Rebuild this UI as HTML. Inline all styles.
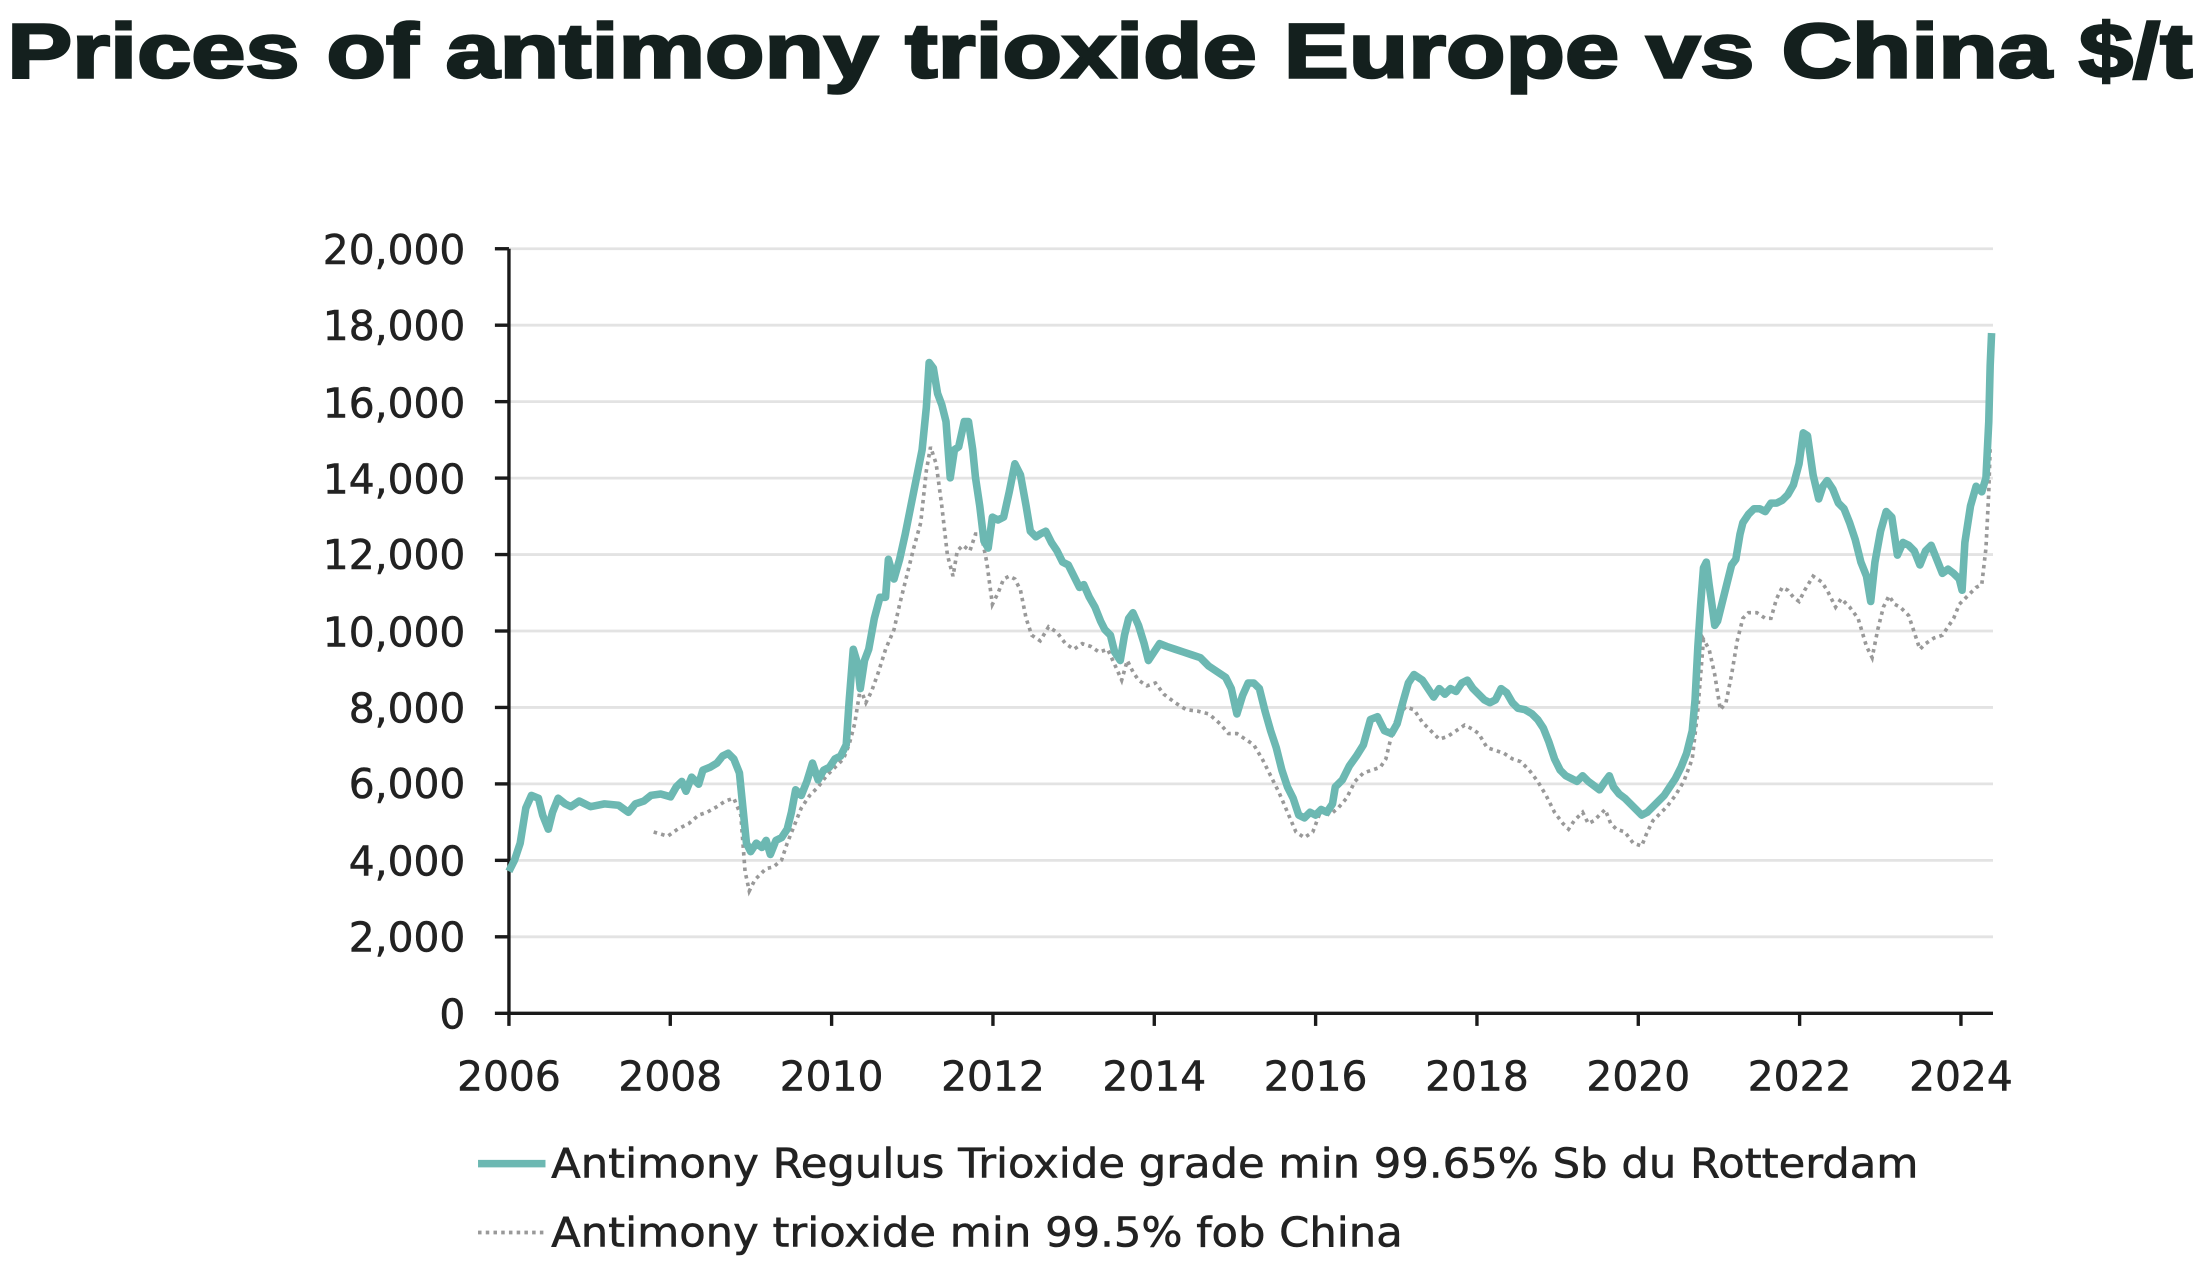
<!DOCTYPE html>
<html><head><meta charset="utf-8"><style>
html,body{margin:0;padding:0;background:#fff;width:2204px;height:1262px;overflow:hidden}
svg{display:block}
</style></head><body>
<svg width="2204" height="1262" viewBox="0 0 1568 898" xmlns="http://www.w3.org/2000/svg">
<rect width="1568" height="898" fill="#fff"/>
<text x="5" y="55" font-family="Liberation Sans, sans-serif" font-weight="bold" font-size="55" fill="#14201e" stroke="#14201e" stroke-width="1.8" textLength="1555" lengthAdjust="spacingAndGlyphs">Prices of antimony trioxide Europe vs China $/t</text>
<g stroke="#e3e3e3" stroke-width="2">
<line x1="362" x2="1418" y1="177" y2="177"/><line x1="362" x2="1418" y1="231.4" y2="231.4"/><line x1="362" x2="1418" y1="285.8" y2="285.8"/><line x1="362" x2="1418" y1="340.2" y2="340.2"/><line x1="362" x2="1418" y1="394.6" y2="394.6"/><line x1="362" x2="1418" y1="449" y2="449"/><line x1="362" x2="1418" y1="503.4" y2="503.4"/><line x1="362" x2="1418" y1="557.8" y2="557.8"/><line x1="362" x2="1418" y1="612.2" y2="612.2"/><line x1="362" x2="1418" y1="666.6" y2="666.6"/>
</g>
<g stroke="#1a1a1a" stroke-width="2.4">
<line x1="362" y1="177" x2="362" y2="722"/><line x1="352" y1="721" x2="1418" y2="721"/>
<line x1="352" x2="362" y1="177" y2="177"/><line x1="352" x2="362" y1="231.4" y2="231.4"/><line x1="352" x2="362" y1="285.8" y2="285.8"/><line x1="352" x2="362" y1="340.2" y2="340.2"/><line x1="352" x2="362" y1="394.6" y2="394.6"/><line x1="352" x2="362" y1="449" y2="449"/><line x1="352" x2="362" y1="503.4" y2="503.4"/><line x1="352" x2="362" y1="557.8" y2="557.8"/><line x1="352" x2="362" y1="612.2" y2="612.2"/><line x1="352" x2="362" y1="666.6" y2="666.6"/>
<line x1="362" x2="362" y1="721" y2="730"/><line x1="476.8" x2="476.8" y1="721" y2="730"/><line x1="591.6" x2="591.6" y1="721" y2="730"/><line x1="706.4" x2="706.4" y1="721" y2="730"/><line x1="821.2" x2="821.2" y1="721" y2="730"/><line x1="936" x2="936" y1="721" y2="730"/><line x1="1050.8" x2="1050.8" y1="721" y2="730"/><line x1="1165.6" x2="1165.6" y1="721" y2="730"/><line x1="1280.4" x2="1280.4" y1="721" y2="730"/><line x1="1395.2" x2="1395.2" y1="721" y2="730"/>
</g>
<g font-family="DejaVu Sans, sans-serif" font-size="29" fill="#222" stroke="#222" stroke-width="0.4" text-anchor="end">
<text x="331" y="188">20,000</text><text x="331" y="242">18,000</text><text x="331" y="297">16,000</text><text x="331" y="351">14,000</text><text x="331" y="405">12,000</text><text x="331" y="460">10,000</text><text x="331" y="514">8,000</text><text x="331" y="568">6,000</text><text x="331" y="623">4,000</text><text x="331" y="677">2,000</text><text x="331" y="732">0</text>
</g>
<g font-family="DejaVu Sans, sans-serif" font-size="29" fill="#222" stroke="#222" stroke-width="0.4" text-anchor="middle">
<text x="362" y="776">2006</text><text x="476.8" y="776">2008</text><text x="591.6" y="776">2010</text><text x="706.4" y="776">2012</text><text x="821.2" y="776">2014</text><text x="936" y="776">2016</text><text x="1050.8" y="776">2018</text><text x="1165.6" y="776">2020</text><text x="1280.4" y="776">2022</text><text x="1395.2" y="776">2024</text>
</g>
<polyline fill="none" stroke="#999" stroke-width="2.6" stroke-dasharray="2.5 3" points="465,592 475,595 482,590 490,586 497,580 503,578 510,574 516,570 522,568 527,580 530,620 533,634 537,626 541,622 545,618 550,617 556,612 560,600 564,590 570,575 576,566 582,560 588,552 594,546 600,540 604,530 608,515 612,490 616,500 620,492 625,478 630,462 636,448 640,430 645,410 650,390 655,372 659,335 662,318 666,330 670,360 674,395 678,410 681,392 685,388 690,392 694,380 698,380 702,400 706,430 710,422 714,412 718,410 722,412 726,420 730,440 734,452 740,456 746,446 752,450 758,458 764,462 770,458 776,460 782,464 788,462 794,475 798,484 802,470 806,478 810,484 816,488 822,486 828,494 836,500 844,505 852,506 860,508 868,515 874,522 880,522 886,526 892,530 898,540 904,552 910,564 916,578 922,592 928,596 934,592 940,576 946,580 952,575 958,568 964,556 970,550 976,548 982,546 986,540 992,515 996,508 1000,503 1006,505 1012,514 1018,520 1024,526 1030,524 1036,520 1042,516 1048,519 1052,522 1058,532 1064,534 1070,536 1076,540 1082,542 1088,548 1094,556 1100,566 1106,578 1112,586 1116,590 1120,584 1126,578 1130,586 1134,584 1138,580 1142,576 1146,586 1150,590 1156,592 1162,600 1168,602 1172,592 1176,584 1180,580 1186,574 1192,566 1198,556 1204,540 1208,505 1212,455 1216,462 1220,480 1224,505 1228,500 1232,480 1236,456 1240,440 1244,436 1250,436 1256,440 1260,440 1264,426 1268,418 1272,420 1276,425 1280,428 1284,420 1290,410 1296,414 1300,420 1306,432 1310,426 1316,432 1322,440 1328,460 1332,468 1336,448 1340,432 1344,424 1348,430 1352,432 1358,438 1362,450 1366,462 1370,458 1376,454 1382,452 1386,446 1390,440 1394,430 1398,426 1402,422 1406,418 1410,416 1413,390 1415,350 1416,318"/>
<polyline fill="none" stroke="#6cb8b2" stroke-width="5.4" stroke-linejoin="round" points="362,620 366,612 370,600 374,575 378,566 383,568 386,580 390,590 393,578 397,568 402,572 406,574 412,570 420,574 430,572 440,573 447,578 452,572 458,570 463,566 470,565 477,567 481,560 485,556 488,563 492,553 497,558 500,548 505,546 510,543 514,538 518,536 522,540 526,550 528,570 531,600 534,606 538,600 542,603 545,598 548,608 552,598 556,596 560,590 563,578 566,562 570,566 574,556 578,543 582,555 586,548 590,546 594,540 598,538 602,530 604,500 607,462 610,472 612,490 615,470 618,462 622,440 626,425 630,425 632,398 636,412 640,398 644,380 648,360 652,340 656,320 659,290 661,258 664,262 667,280 670,288 673,300 676,340 679,320 682,318 686,300 689,300 692,320 694,340 697,360 700,385 703,390 706,368 710,370 714,368 718,350 722,330 726,338 730,360 733,378 737,382 740,380 744,378 748,386 752,392 756,400 760,402 764,410 768,418 771,416 775,425 779,432 783,442 786,448 790,452 793,464 797,470 800,452 803,440 806,436 810,445 814,458 817,470 821,464 825,458 830,460 836,462 842,464 848,466 854,468 860,474 866,478 872,482 876,490 880,508 884,495 888,486 892,486 896,490 900,506 904,520 908,532 912,548 916,560 920,568 924,580 928,582 932,578 936,580 940,576 944,578 948,572 950,560 955,555 960,545 965,538 970,530 975,512 980,510 985,520 990,522 994,515 998,500 1002,486 1006,480 1012,484 1016,490 1020,496 1024,490 1028,494 1032,490 1036,492 1040,486 1044,484 1048,490 1052,494 1056,498 1060,500 1064,498 1068,490 1072,493 1076,500 1080,504 1085,505 1090,508 1094,512 1098,518 1102,528 1106,540 1110,548 1114,552 1118,554 1122,556 1126,552 1130,556 1134,559 1138,562 1142,556 1145,552 1148,560 1152,565 1156,568 1160,572 1164,576 1168,580 1172,578 1176,574 1180,570 1184,566 1188,560 1192,554 1196,546 1200,536 1204,520 1206,498 1208,460 1210,430 1212,404 1214,400 1216,416 1218,430 1220,445 1222,442 1225,430 1228,418 1230,410 1232,402 1235,398 1238,380 1240,372 1244,366 1248,362 1252,362 1256,364 1260,358 1264,358 1268,356 1272,352 1276,345 1280,330 1283,308 1286,310 1290,338 1294,355 1297,346 1300,342 1304,348 1308,358 1312,362 1316,372 1320,384 1324,400 1328,410 1331,428 1334,400 1338,378 1342,364 1346,368 1350,395 1354,386 1358,388 1362,392 1366,402 1370,392 1374,388 1378,398 1382,408 1386,405 1390,408 1394,412 1396,420 1398,386 1402,360 1406,346 1410,350 1413,340 1415,300 1416,260 1417,237"/>
<line x1="340" y1="828" x2="388" y2="828" stroke="#6cb8b2" stroke-width="5.4"/>
<line x1="340" y1="877" x2="388" y2="877" stroke="#999" stroke-width="2.6" stroke-dasharray="2.5 3"/>
<g font-family="DejaVu Sans, sans-serif" font-size="29" fill="#222" stroke="#222" stroke-width="0.4">
<text x="392" y="838" textLength="973" lengthAdjust="spacingAndGlyphs">Antimony Regulus Trioxide grade min 99.65% Sb du Rotterdam</text>
<text x="392" y="887" textLength="606" lengthAdjust="spacingAndGlyphs">Antimony trioxide min 99.5% fob China</text>
</g>
</svg>
</body></html>
